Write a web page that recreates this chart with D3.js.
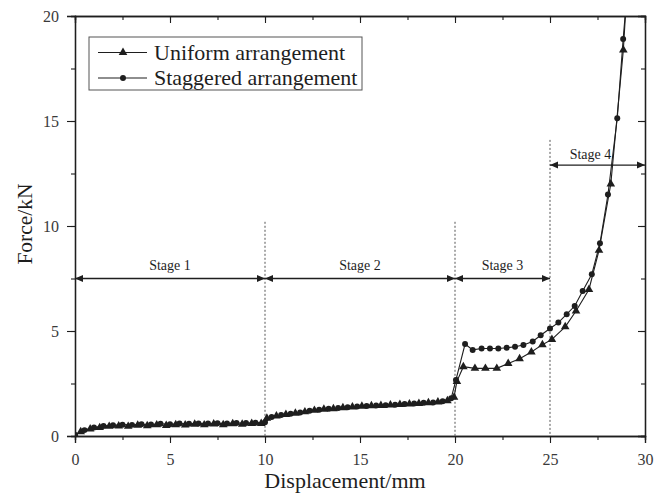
<!DOCTYPE html>
<html>
<head>
<meta charset="utf-8">
<script src="https://cdn.jsdelivr.net/npm/d3@7"></script>
<style>
  body { margin: 0; background: #fff; }
  svg { font-family: "Liberation Serif", "Times New Roman", serif; }
</style>
</head>
<body>
<div id="chart"></div>
<script>
// [displacement (mm), force (kN)]
const uniformData = [
  [0, 0.05], [0.3, 0.2], [0.8, 0.33], [1.3, 0.4], [1.8, 0.46], [2.3, 0.48], [2.8, 0.46],
  [3.3, 0.51], [3.8, 0.49], [4.3, 0.53], [4.8, 0.5], [5.3, 0.54], [5.8, 0.52], [6.3, 0.56],
  [6.8, 0.53], [7.3, 0.57], [7.8, 0.54], [8.3, 0.58], [8.8, 0.56], [9.3, 0.6], [9.8, 0.6],
  [10.1, 0.85], [10.6, 0.95], [11.1, 1.02], [11.6, 1.08], [12.1, 1.15], [12.6, 1.22],
  [13.1, 1.27], [13.6, 1.3], [14.1, 1.35], [14.6, 1.38], [15.1, 1.42], [15.6, 1.44],
  [16.1, 1.45], [16.6, 1.48], [17.1, 1.5], [17.6, 1.52], [18.1, 1.55], [18.6, 1.58],
  [19.1, 1.62], [19.6, 1.68], [19.95, 1.85], [20.1, 2.6], [20.44, 3.3], [21.05, 3.22],
  [21.6, 3.22], [22.2, 3.22], [22.8, 3.45], [23.4, 3.68], [24.02, 4.0], [24.6, 4.35],
  [25.1, 4.6], [25.8, 5.2], [26.37, 5.95], [27.05, 6.98], [27.58, 8.84], [28.2, 12.0],
  [28.86, 18.38], [29.0, 20.5]
];

const staggeredData = [
  [0, 0.05], [0.5, 0.28], [1.0, 0.4], [1.5, 0.48], [2.0, 0.51], [2.5, 0.54], [3.0, 0.53],
  [3.5, 0.56], [4.0, 0.55], [4.5, 0.58], [5.0, 0.56], [5.5, 0.59], [6.0, 0.58], [6.5, 0.6],
  [7.0, 0.59], [7.5, 0.61], [8.0, 0.6], [8.5, 0.62], [9.0, 0.62], [9.5, 0.63], [10.0, 0.65],
  [10.35, 0.9], [10.85, 1.0], [11.35, 1.06], [11.85, 1.12], [12.35, 1.2], [12.85, 1.25],
  [13.35, 1.3], [13.85, 1.33], [14.35, 1.37], [14.85, 1.4], [15.35, 1.43], [15.85, 1.45],
  [16.35, 1.47], [16.85, 1.49], [17.35, 1.52], [17.85, 1.55], [18.35, 1.58], [18.85, 1.6],
  [19.35, 1.65], [19.8, 1.8], [20.05, 2.67], [20.53, 4.38], [20.93, 4.1], [21.4, 4.17],
  [21.84, 4.17], [22.28, 4.17], [22.72, 4.2], [23.16, 4.25], [23.6, 4.33], [24.09, 4.5],
  [24.51, 4.8], [25.0, 5.12], [25.44, 5.4], [25.88, 5.8], [26.3, 6.19], [26.72, 6.9],
  [27.2, 7.7], [27.63, 9.18], [28.05, 11.5], [28.54, 15.13], [28.85, 18.9], [29.0, 20.5]
];

// stage spans: label, from, to, arrow height (kN)
const stages = [
  { label: "Stage 1", from: 0, to: 10, at: 7.5 },
  { label: "Stage 2", from: 10, to: 20, at: 7.5 },
  { label: "Stage 3", from: 20, to: 25, at: 7.5 },
  { label: "Stage 4", from: 25, to: 30, at: 12.9 }
];

// dotted boundaries: displacement, top (kN)
const boundaries = [[10, 10.2], [20, 10.2], [25, 14.1]];

const xTicks = [0, 5, 10, 15, 20, 25, 30];
const yTicks = [0, 5, 10, 15, 20];

const width = 671, height = 497;
const margin = { top: 16, right: 26, bottom: 61, left: 75 };
const chartWidth = width - margin.left - margin.right;
const chartHeight = height - margin.top - margin.bottom;
const ink = "#1e1e1e";

const svg = d3.select("#chart")
  .append("svg")
  .attr("width", width)
  .attr("height", height);

const g = svg.append("g").attr("transform", `translate(${margin.left},${margin.top})`);

const x = d3.scaleLinear().domain([0, 30]).range([0, chartWidth]);
const y = d3.scaleLinear().domain([0, 20]).range([chartHeight, 0]);

const minorX = d3.range(0, 30.1, 2.5);
const minorY = d3.range(0, 20.1, 2.5);

function styleAxis(sel) {
  sel.select(".domain").attr("stroke", ink).attr("stroke-width", 1.3);
  sel.selectAll(".tick line").attr("stroke", ink).attr("stroke-width", 1.1);
  sel.selectAll(".tick text")
    .attr("fill", "#3a3a3a")
    .attr("font-size", "16px")
    .attr("font-family", "Liberation Serif, serif");
}

// minor ticks first, then major ones on top
g.append("g").attr("transform", `translate(0,${chartHeight})`)
  .call(d3.axisBottom(x).tickValues(minorX).tickSize(4).tickFormat(""))
  .call(styleAxis);
g.append("g").attr("transform", `translate(0,${chartHeight})`)
  .call(d3.axisBottom(x).tickValues(xTicks).tickSize(7).tickPadding(11))
  .call(styleAxis);

g.append("g")
  .call(d3.axisLeft(y).tickValues(minorY).tickSize(4).tickFormat(""))
  .call(styleAxis);
g.append("g")
  .call(d3.axisLeft(y).tickValues(yTicks).tickSize(8).tickPadding(8))
  .call(styleAxis);

// mirrored frame, ticks pointing inward
g.append("g")
  .call(d3.axisTop(x).tickValues(minorX).tickSize(-4).tickFormat(""))
  .call(styleAxis);
g.append("g")
  .call(d3.axisTop(x).tickValues(xTicks).tickSize(-7).tickFormat(""))
  .call(styleAxis);
g.append("g").attr("transform", `translate(${chartWidth},0)`)
  .call(d3.axisRight(y).tickValues(minorY).tickSize(-4).tickFormat(""))
  .call(styleAxis);
g.append("g").attr("transform", `translate(${chartWidth},0)`)
  .call(d3.axisRight(y).tickValues(yTicks).tickSize(-7).tickFormat(""))
  .call(styleAxis);

// Axis titles
svg.append("text")
  .attr("x", margin.left + chartWidth / 2 - 15)
  .attr("y", height - 9)
  .attr("text-anchor", "middle")
  .attr("font-size", "22px")
  .attr("fill", ink)
  .text("Displacement/mm");

svg.append("text")
  .attr("transform", `translate(32,${margin.top + chartHeight / 2 - 2}) rotate(-90)`)
  .attr("text-anchor", "middle")
  .attr("font-size", "21.5px")
  .attr("fill", ink)
  .text("Force/kN");

// Dotted stage boundaries
g.selectAll(".boundary")
  .data(boundaries)
  .enter()
  .append("line")
  .attr("x1", d => x(d[0]))
  .attr("x2", d => x(d[0]))
  .attr("y1", d => y(d[1]))
  .attr("y2", y(0))
  .attr("stroke", "#555")
  .attr("stroke-width", 1)
  .attr("stroke-dasharray", "2,2");

// Stage arrows
const head = 8, half = 3.5;
stages.forEach((s, i) => {
  const x0 = x(s.from), x1 = x(s.to), yy = y(s.at);
  const last = i === stages.length - 1;
  g.append("line")
    .attr("x1", x0).attr("x2", x1)
    .attr("y1", yy).attr("y2", yy)
    .attr("stroke", ink).attr("stroke-width", 1.3);
  g.append("path")
    .attr("d", `M${x0},${yy} L${x0 + head},${yy - half} L${x0 + head},${yy + half} Z`)
    .attr("fill", ink);
  g.append("path")
    .attr("d", `M${x1},${yy} L${x1 - head},${yy - half} L${x1 - head},${yy + half} Z`)
    .attr("fill", ink);
  g.append("text")
    .attr("x", (x0 + x1) / 2 - (last ? 7 : 0))
    .attr("y", yy - (last ? 6 : 9))
    .attr("text-anchor", "middle")
    .attr("font-size", "14px")
    .attr("fill", ink)
    .text(s.label);
});

// Curves
g.append("clipPath").attr("id", "plot-clip")
  .append("rect").attr("width", chartWidth).attr("height", chartHeight);

const line = d3.line().x(d => x(d[0])).y(d => y(d[1]));
const plot = g.append("g").attr("clip-path", "url(#plot-clip)");

const triangle = d3.symbol().type(d3.symbolTriangle).size(32);
const circle = d3.symbol().type(d3.symbolCircle).size(28);

function drawSeries(data, symbol) {
  plot.append("path")
    .datum(data)
    .attr("d", line)
    .attr("fill", "none")
    .attr("stroke", ink)
    .attr("stroke-width", 1.1);
  plot.selectAll(null)
    .data(data.filter(d => d[1] <= 20))
    .enter()
    .append("path")
    .attr("d", symbol)
    .attr("transform", d => `translate(${x(d[0])},${y(d[1])})`)
    .attr("fill", ink);
}

drawSeries(uniformData, triangle);
drawSeries(staggeredData, circle);

// Legend
const legend = svg.append("g").attr("transform", "translate(89,37)");
legend.append("rect")
  .attr("width", 273).attr("height", 53)
  .attr("fill", "#fff")
  .attr("stroke", "#555").attr("stroke-width", 1);

const legendItems = [
  { label: "Uniform arrangement", symbol: triangle },
  { label: "Staggered arrangement", symbol: circle }
];
legendItems.forEach((item, i) => {
  const ly = 15.5 + i * 25.5;
  legend.append("line")
    .attr("x1", 9).attr("x2", 58)
    .attr("y1", ly).attr("y2", ly)
    .attr("stroke", ink).attr("stroke-width", 1.1);
  legend.append("path")
    .attr("d", item.symbol)
    .attr("transform", `translate(34,${ly})`)
    .attr("fill", ink);
  legend.append("text")
    .attr("x", 65)
    .attr("y", ly + 7)
    .attr("font-size", "22px")
    .attr("fill", ink)
    .text(item.label);
});
</script>
</body>
</html>
